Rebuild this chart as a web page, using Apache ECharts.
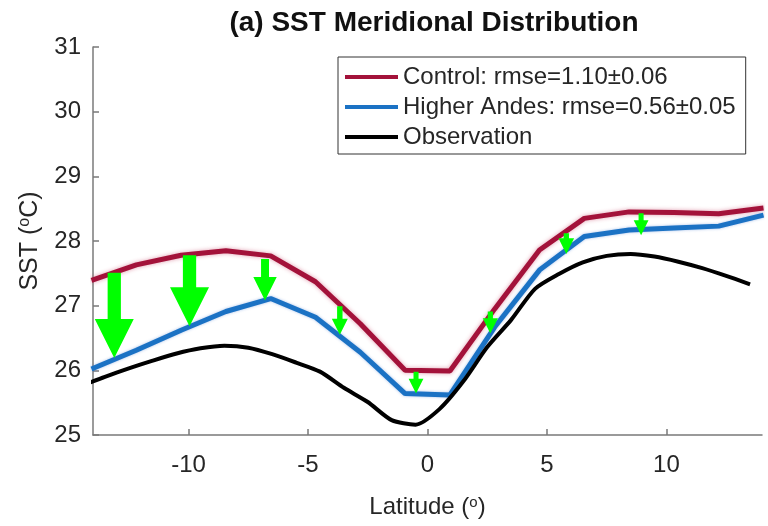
<!DOCTYPE html>
<html>
<head>
<meta charset="utf-8">
<style>
  html, body { margin: 0; padding: 0; background: #fff; }
  #main { width: 768px; height: 526px; }
</style>
<script src="https://cdn.jsdelivr.net/npm/echarts@6/dist/echarts.min.js"></script>
</head>
<body>
<div id="main"></div>
<script>
// 模式格点纬度 (1.875度)
const modelLat = [-14.0625, -12.1875, -10.3125, -8.4375, -6.5625, -4.6875, -2.8125, -0.9375,
  0.9375, 2.8125, 4.6875, 6.5625, 8.4375, 10.3125, 12.1875, 14.0625]
const control = [27.39, 27.63, 27.78, 27.85, 27.77, 27.37, 26.72, 26.0,
  25.99, 26.95, 27.86, 28.35, 28.45, 28.44, 28.42, 28.51]
const higherAndes = [26.02, 26.31, 26.62, 26.91, 27.11, 26.82, 26.28, 25.64,
  25.62, 26.67, 27.55, 28.07, 28.17, 28.20, 28.23, 28.40]

// 观测
const obsLat = [-14.5, -13.5, -12.5, -11.5, -10.5, -9.5, -8.5, -7.5, -6.5, -5.5, -4.5, -3.5, -2.5, -1.5, -0.5,
  0.5, 1.5, 2.5, 3.5, 4.5, 5.5, 6.5, 7.5, 8.5, 9.5, 10.5, 11.5, 12.5, 13.5]
const observation = [25.76, 25.90, 26.03, 26.15, 26.26, 26.34, 26.38, 26.35, 26.25, 26.12, 25.98, 25.73, 25.51, 25.23, 25.16,
  25.40, 25.83, 26.36, 26.78, 27.26, 27.49, 27.67, 27.77, 27.80, 27.76, 27.68, 27.58, 27.46, 27.33]

// 绿色箭头: 纬度, 起点(Control), 终点(Higher Andes), 相对大小
const arrowLat = [-13.11, -9.96, -6.8, -3.67, -0.48, 2.63, 5.81, 8.94]
const arrowFrom = [27.51, 27.78, 27.72, 26.99, 25.98, 26.91, 28.12, 28.43]
const arrowTo = [26.19, 26.68, 27.08, 26.55, 25.64, 26.57, 27.80, 28.09]
const arrowWeight = [1, 1, 0.6, 0.41, 0.38, 0.39, 0.4, 0.38]

const xTicks = [-10, -5, 0, 5, 10]
const legendNames = ['Control: rmse=1.10±0.06', 'Higher Andes: rmse=0.56±0.05', 'Observation']

const font = 'Liberation Sans, Arial, Helvetica, sans-serif'
const axisGray = '#7a7a7a'
const textDark = '#262626'

const myChart = echarts.init(document.querySelector('#main'), null, { renderer: 'canvas' })

const pairs = (xs, ys) => xs.map((x, i) => [x, ys[i]])

const option = {
  animation: false,
  backgroundColor: '#fff',
  title: {
    text: '(a) SST Meridional Distribution',
    left: 429,
    textAlign: 'center',
    top: 4,
    textStyle: {
      fontFamily: font,
      fontSize: 28,
      fontWeight: 'bold',
      color: '#111'
    }
  },
  grid: {
    left: 93,
    right: 6,
    top: 47,
    bottom: 91,
    outerBoundsMode: 'none'
  },
  legend: {
    data: legendNames,
    orient: 'vertical',
    left: 338,
    top: 57,
    icon: 'rect',
    itemWidth: 53,
    itemHeight: 4,
    itemGap: 6,
    padding: [8, 10, 5, 7],
    borderColor: '#333',
    borderWidth: 1,
    backgroundColor: '#fff',
    textStyle: {
      fontFamily: font,
      fontSize: 24,
      lineHeight: 24,
      color: textDark
    }
  },
  xAxis: {
    type: 'value',
    min: -14,
    max: 14,
    name: 'Latitude ({s|o})',
    nameLocation: 'middle',
    nameGap: 60,
    nameTextStyle: {
      fontFamily: font,
      fontSize: 24,
      color: textDark,
      rich: {
        s: { fontFamily: font, fontSize: 15, verticalAlign: 'top', lineHeight: 15, color: textDark }
      }
    },
    axisLine: { onZero: false, lineStyle: { color: axisGray, width: 1.5 } },
    axisTick: { inside: true, length: 6, customValues: xTicks, lineStyle: { color: axisGray, width: 1.5 } },
    axisLabel: { customValues: xTicks, margin: 18, fontFamily: font, fontSize: 24, color: textDark },
    splitLine: { show: false }
  },
  yAxis: {
    type: 'value',
    min: 25,
    max: 31,
    interval: 1,
    name: '{a|SST (}{s|o}{a|C)}',
    nameLocation: 'middle',
    nameGap: 49,
    nameTextStyle: {
      fontFamily: font,
      fontSize: 25,
      color: textDark,
      rich: {
        a: { fontFamily: font, fontSize: 25, lineHeight: 27, color: textDark },
        s: { fontFamily: font, fontSize: 16, verticalAlign: 'top', lineHeight: 16, color: textDark }
      }
    },
    axisLine: { show: true, onZero: false, lineStyle: { color: axisGray, width: 1.5 } },
    axisTick: { show: true, inside: true, length: 6, lineStyle: { color: axisGray, width: 1.5 } },
    axisLabel: { margin: 12, fontFamily: font, fontSize: 24, color: textDark },
    splitLine: { show: false }
  },
  series: [
    {
      name: legendNames[0],
      type: 'line',
      data: pairs(modelLat, control),
      showSymbol: false,
      itemStyle: { color: '#a3123a' },
      lineStyle: {
        color: '#a3123a',
        width: 5,
        shadowColor: 'rgba(190, 40, 80, 0.45)',
        shadowBlur: 4
      },
      z: 2
    },
    {
      name: legendNames[1],
      type: 'line',
      data: pairs(modelLat, higherAndes),
      showSymbol: false,
      itemStyle: { color: '#1b72c4' },
      lineStyle: {
        color: '#1b72c4',
        width: 5,
        shadowColor: 'rgba(40, 100, 200, 0.4)',
        shadowBlur: 3
      },
      z: 3
    },
    {
      name: legendNames[2],
      type: 'line',
      data: pairs(obsLat, observation),
      showSymbol: false,
      smooth: 0.25,
      itemStyle: { color: '#000' },
      lineStyle: { color: '#000', width: 4 },
      z: 4
    },
    {
      // 绿色箭头
      type: 'custom',
      data: arrowLat.map((lat, i) => [lat, arrowFrom[i], arrowTo[i], arrowWeight[i]]),
      renderItem: (params, api) => {
        const p0 = api.coord([api.value(0), api.value(1)])
        const p1 = api.coord([api.value(0), api.value(2)])
        const s = api.value(3) * 39
        const sw = s * 0.34
        const x = p0[0]
        const hy = p1[1] - s
        return {
          type: 'polygon',
          shape: {
            points: [
              [x - sw / 2, p0[1]], [x + sw / 2, p0[1]], [x + sw / 2, hy],
              [x + s / 2, hy], [x, p1[1]], [x - s / 2, hy], [x - sw / 2, hy]
            ]
          },
          style: { fill: '#00ff00' }
        }
      },
      z: 10,
      silent: true
    }
  ]
}

myChart.setOption(option)
</script>
</body>
</html>
